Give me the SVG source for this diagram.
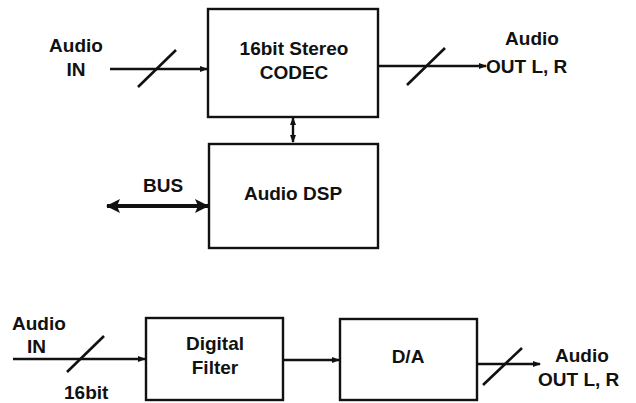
<svg xmlns="http://www.w3.org/2000/svg" width="636" height="403" viewBox="0 0 636 403">
<style>
text{font-family:"Liberation Sans",Arial,sans-serif;font-size:19px;font-weight:bold;fill:#111}
.box{fill:#fff;stroke:#111;stroke-width:2.4}
.ln{stroke:#111;stroke-width:2.4;fill:none}
.sl{stroke:#111;stroke-width:2.6;fill:none}
</style>
<defs>
<marker id="ah" markerWidth="8" markerHeight="8" refX="7" refY="4" orient="auto" markerUnits="userSpaceOnUse">
<path d="M0,1 L8,4 L0,7 Z" fill="#111"/>
</marker>
<marker id="ahs" markerWidth="8" markerHeight="8" refX="7" refY="4" orient="auto-start-reverse" markerUnits="userSpaceOnUse">
<path d="M0,1 L8,4 L0,7 Z" fill="#111"/>
</marker>
<marker id="big" markerWidth="14" markerHeight="14" refX="13" refY="7" orient="auto-start-reverse" markerUnits="userSpaceOnUse">
<path d="M0,0 L14,7 L0,14 L3,7 Z" fill="#111"/>
</marker>
</defs>
<rect width="636" height="403" fill="#fff"/>
<g id="codec">
<rect class="box" x="208" y="9" width="170" height="108"/>
<text x="294" y="55" text-anchor="middle">16bit Stereo</text>
<text x="294" y="79" text-anchor="middle">CODEC</text>
</g>
<g id="dsp">
<rect class="box" x="209" y="144" width="169" height="104"/>
<text x="293" y="200" text-anchor="middle">Audio DSP</text>
</g>
<g id="filter">
<rect class="box" x="146" y="318" width="137" height="82"/>
<text x="215" y="350" text-anchor="middle">Digital</text>
<text x="215" y="374" text-anchor="middle">Filter</text>
</g>
<g id="da">
<rect class="box" x="340" y="319" width="137" height="81"/>
<text x="408" y="363" text-anchor="middle">D/A</text>
</g>
<g id="labels">
<text x="76" y="52" text-anchor="middle">Audio</text>
<text x="76" y="76" text-anchor="middle">IN</text>
<text x="532" y="45" text-anchor="middle">Audio</text>
<text x="486" y="73">OUT L, R</text>
<text x="163" y="192" text-anchor="middle">BUS</text>
<text x="12" y="330">Audio</text>
<text x="27" y="353">IN</text>
<text x="64" y="399">16bit</text>
<text x="555" y="362">Audio</text>
<text x="538" y="386">OUT L, R</text>
</g>
<g id="connectors">
<line class="ln" x1="110" y1="69" x2="207" y2="69" marker-end="url(#ah)"/>
<line class="sl" x1="138" y1="87" x2="176" y2="50"/>
<line class="ln" x1="378" y1="66" x2="486" y2="66" marker-end="url(#ah)"/>
<line class="sl" x1="407" y1="85" x2="445" y2="48"/>
<line class="ln" x1="293" y1="118" x2="293" y2="142" marker-start="url(#ahs)" marker-end="url(#ahs)"/>
<line x1="107" y1="206" x2="208" y2="206" stroke="#111" stroke-width="4" marker-start="url(#big)" marker-end="url(#big)"/>
<line class="ln" x1="13" y1="359" x2="145" y2="359" marker-end="url(#ah)"/>
<line class="sl" x1="67" y1="372" x2="104" y2="336"/>
<line class="ln" x1="283" y1="360" x2="339" y2="360" marker-end="url(#ah)"/>
<line class="ln" x1="477" y1="364" x2="540" y2="364" marker-end="url(#ah)"/>
<line class="sl" x1="483" y1="385" x2="522" y2="348"/>
</g>
</svg>
